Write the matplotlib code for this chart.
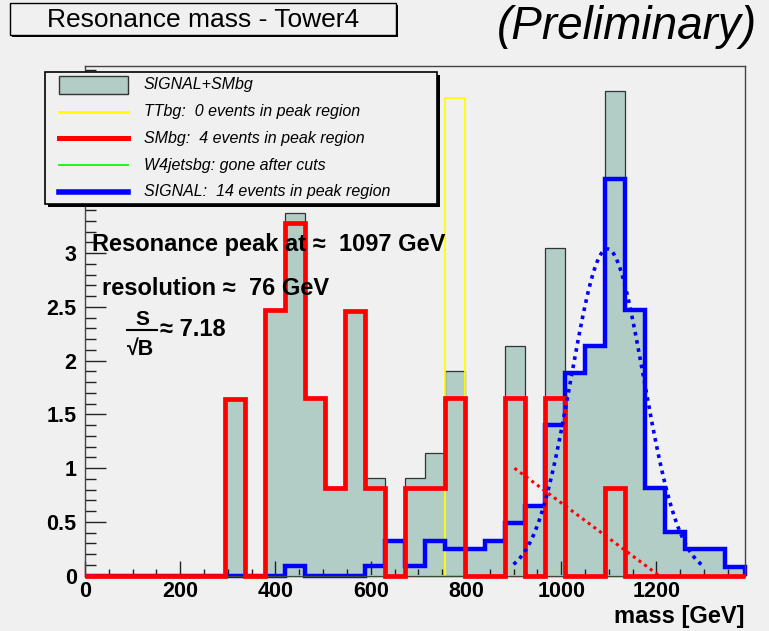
import numpy as np
import matplotlib
matplotlib.use('Agg')
import matplotlib.pyplot as plt
from matplotlib.patches import Rectangle
from matplotlib.lines import Line2D
from matplotlib.ticker import MultipleLocator, FuncFormatter

plt.rcParams['font.family'] = ['Liberation Sans', 'DejaVu Sans']

# 33 bins of 42 GeV
mass_edges = np.arange(0, 1387, 42)

smbg = [0, 0, 0, 0, 0, 0, 0, 1.64, 0, 2.47, 3.28, 1.65, 0.82, 2.46, 0.82, 0,
        0.82, 0.82, 1.65, 0, 0, 1.65, 0, 1.65, 0, 0, 0.82, 0, 0, 0, 0, 0, 0]
signal = [0, 0, 0, 0, 0, 0, 0, 0, 0, 0, 0.09, 0, 0, 0, 0.09, 0.32, 0.09, 0.32,
          0.25, 0.25, 0.32, 0.49, 0.65, 1.40, 1.89, 2.14, 3.69, 2.47, 0.82,
          0.41, 0.25, 0.25, 0.08]
ttbg = [0] * 18 + [4.44] + [0] * 14
w4jets = [0] * 33
signal_plus_smbg = np.add(signal, smbg)

# fits
peak_mass = 1097
resolution = 76
peak_amp = 3.04
gauss_range = [900, 1300]
bkg_fit_mass = [902, 1206]
bkg_fit_val = [1.0, 0.0]

legend_labels = ['SIGNAL+SMbg', 'TTbg:  0 events in peak region',
                 'SMbg:  4 events in peak region', 'W4jetsbg: gone after cuts',
                 'SIGNAL:  14 events in peak region']

bg = '#f0f0f0'
fill = '#b2cdc6'
W, H = 769, 631

fig = plt.figure(figsize=(W / 100, H / 100), dpi=100, facecolor=bg)
ax = fig.add_axes([85 / W, 1 - 575.7 / H, 660 / W, 509.7 / H], facecolor=bg)

ax.stairs(signal_plus_smbg, mass_edges, fill=True, color=fill, zorder=1)
ax.stairs(signal_plus_smbg, mass_edges, color='#333333', lw=0.9, zorder=1.5)
ax.stairs(ttbg, mass_edges, color='#ffff00', lw=1.3, zorder=2, clip_on=False)
ax.stairs(w4jets, mass_edges, color='#00ff00', lw=1, zorder=2.2, clip_on=False)
ax.stairs(signal, mass_edges, color='#0000ff', lw=3.2, zorder=2.5, clip_on=False)
ax.stairs(smbg, mass_edges, color='#ff0000', lw=3.4, zorder=3, clip_on=False)

m = np.linspace(gauss_range[0], gauss_range[1], 200)
ax.plot(m, peak_amp * np.exp(-0.5 * ((m - peak_mass) / resolution) ** 2),
        color='#0000ff', lw=2.6, ls=(0, (1, 1.3)), zorder=4)
ax.plot(bkg_fit_mass, bkg_fit_val, color='#ff0000', lw=2.2, ls=(0, (1, 1.3)),
        zorder=4)

ax.set_xlim(0, 1386)
ax.set_ylim(0, 509.7 / 107.5)
ax.xaxis.set_major_locator(MultipleLocator(200))
ax.xaxis.set_minor_locator(MultipleLocator(50))
ax.yaxis.set_major_locator(MultipleLocator(0.5))
ax.yaxis.set_minor_locator(MultipleLocator(0.1))
ax.yaxis.set_major_formatter(FuncFormatter(lambda v, p: '%g' % v if v < 3.2 else ''))
ax.tick_params(axis='both', which='both', direction='in', color='#222222',
               width=1, labelsize=15.5, top=False, right=False)
ax.tick_params(axis='x', which='major', length=11, pad=4)
ax.tick_params(axis='x', which='minor', length=5)
ax.tick_params(axis='y', which='major', length=15, pad=6)
ax.tick_params(axis='y', which='minor', length=8)
for lab in ax.get_xticklabels() + ax.get_yticklabels():
    lab.set_fontweight('bold')
for s in ax.spines.values():
    s.set_color('#444444')
    s.set_linewidth(1)

# overlay in pixel units for title, legend and notes
ov = fig.add_axes([0, 0, 1, 1], zorder=5)
ov.set_xlim(0, W)
ov.set_ylim(H, 0)
ov.axis('off')
ov.patch.set_alpha(0)

ov.add_patch(Rectangle((12, 5), 386, 32, facecolor='black', edgecolor='none'))
ov.add_patch(Rectangle((10, 3), 386, 32, facecolor=bg, edgecolor='black', lw=1))
ov.text(203, 20, 'Resonance mass - Tower4', fontsize=19, ha='center', va='center')
ov.text(497, 27, '(Preliminary)', fontsize=33, style='italic', ha='left', va='center')

ov.add_patch(Rectangle((48, 75), 392, 132, facecolor='black', edgecolor='none'))
ov.add_patch(Rectangle((45, 72), 392, 132, facecolor=bg, edgecolor='black', lw=1.2))
styles = [None, ('#ffff00', 2), ('#ff0000', 3.6), ('#00ff00', 1.3), ('#0000ff', 4)]
for i, lab in enumerate(legend_labels):
    y = 85 + i * 26.7
    if styles[i] is None:
        ov.add_patch(Rectangle((59, y - 9), 69, 18, facecolor=fill,
                               edgecolor='#333333', lw=1))
    else:
        ov.add_line(Line2D([59, 128], [y, y], color=styles[i][0], lw=styles[i][1]))
    ov.text(144, y, lab, fontsize=11.5, style='italic', ha='left', va='center',
            color='black')

ov.text(92, 251, 'Resonance peak at \u2248  %d GeV' % peak_mass, fontsize=17,
        fontweight='bold', ha='left', va='baseline')
ov.text(102, 295, 'resolution \u2248  %d GeV' % resolution, fontsize=17,
        fontweight='bold', ha='left', va='baseline')
ov.text(142, 325, 'S', fontsize=15, fontweight='bold', ha='center', va='baseline')
ov.add_line(Line2D([127, 157], [330, 330], color='black', lw=1.5))
ov.text(141, 355, '\u221aB', fontsize=15.5, fontweight='bold', ha='center', va='baseline')
ov.text(160, 336, '\u2248 7.18', fontsize=17, fontweight='bold', ha='left', va='baseline')

ov.text(745, 617, 'mass [GeV]', fontsize=17, fontweight='bold', ha='right', va='center')

fig.savefig('out.png', dpi=100, facecolor=bg)
